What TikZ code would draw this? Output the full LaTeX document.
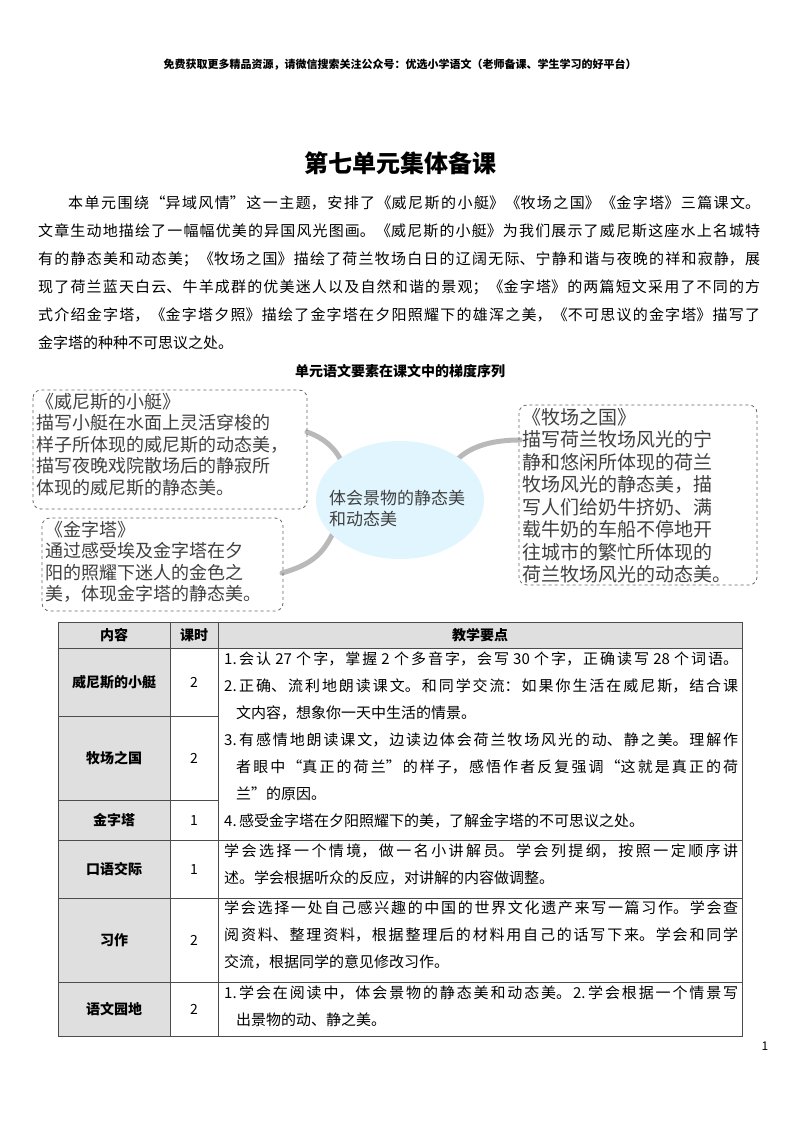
\documentclass[tikz,border=0pt]{standalone}
\usepackage{fontspec}
\setmainfont{Noto Sans CJK SC}
\newfontfamily\cjk{Noto Sans CJK SC}
\usetikzlibrary{shapes.geometric}
\XeTeXlinebreaklocale "zh"
\XeTeXlinebreakskip=0pt plus 4pt
\begin{document}
\begin{tikzpicture}[x=1pt,y=-1pt,
  dbox/.style={draw=gray!80!black,dashed,rounded corners=8pt,line width=0.8pt},
  btxt/.style={anchor=north west,align=left,inner sep=0pt,font=\fontsize{18}{21.5}\selectfont,text=black!75},
  conn/.style={draw=gray!55,line width=5pt,line cap=round},
  cell/.style={draw=black!70,line width=0.8pt},
  ttxt/.style={font=\bfseries\fontsize{14}{16}\selectfont},
  ctxt/.style={anchor=north west,align=justify,inner sep=0pt,font=\fontsize{15}{27}\selectfont}]
\useasboundingbox (0,0) rectangle (800,1132);
\fill[white] (0,0) rectangle (800,1132);
\node[font=\bfseries\fontsize{11}{13}\selectfont] (hdr) at (400,65) {免费获取更多精品资源，请微信搜索关注公众号：优选小学语文（老师备课、学生学习的好平台）};
\node[font=\bfseries\fontsize{24}{28}\selectfont] (title) at (400,163) {第七单元集体备课};
\node[anchor=north west,inner sep=0pt,text width=722pt,align=justify,font=\fontsize{15}{28}\selectfont] (para) at (38,196)
{\hspace*{30pt}本单元围绕“异域风情”这一主题，安排了《威尼斯的小艇》《牧场之国》《金字塔》三篇课文。\linebreak 文章生动地描绘了一幅幅优美的异国风光图画。《威尼斯的小艇》为我们展示了威尼斯这座水上名城特\linebreak 有的静态美和动态美；《牧场之国》描绘了荷兰牧场白日的辽阔无际、宁静和谐与夜晚的祥和寂静，展\linebreak 现了荷兰蓝天白云、牛羊成群的优美迷人以及自然和谐的景观；《金字塔》的两篇短文采用了不同的方\linebreak 式介绍金字塔，《金字塔夕照》描绘了金字塔在夕阳照耀下的雄浑之美，《不可思议的金字塔》描写了\linebreak 金字塔的种种不可思议之处。};
\node[font=\bfseries\fontsize{14}{16}\selectfont] (cap) at (400,371) {单元语文要素在课文中的梯度序列};
% mind map
\path[conn] (307,432) .. controls (330,440) and (340,455) .. (345,470);
\path[conn] (455,462) .. controls (470,445) and (495,440) .. (520,440);
\path[conn] (282,573) .. controls (310,565) and (322,555) .. (332,535);
\node[ellipse,fill=cyan!12,minimum width=168pt,minimum height=118pt] (ctr) at (400,500) {};
\node[anchor=west,align=left,inner sep=0pt,font=\fontsize{17}{21}\selectfont,text=black!75] (ctrt) at (329,508) {体会景物的静态美\\和动态美};
\draw[dbox] (33,390) rectangle (307,509);
\node[btxt] (b1) at (36,393) {《威尼斯的小艇》\\描写小艇在水面上灵活穿梭的\\样子所体现的威尼斯的动态美，\\描写夜晚戏院散场后的静寂所\\体现的威尼斯的静态美。};
\draw[dbox] (42,518) rectangle (283,611);
\node[btxt] (b2) at (45,521) {《金字塔》\\通过感受埃及金字塔在夕\\阳的照耀下迷人的金色之\\美，体现金字塔的静态美。};
\draw[dbox] (519,405) rectangle (757,585);
\node[btxt,font=\fontsize{19}{22.5}\selectfont] (b3) at (522,408) {《牧场之国》\\描写荷兰牧场风光的宁\\静和悠闲所体现的荷兰\\牧场风光的静态美，描\\写人们给奶牛挤奶、满\\载牛奶的车船不停地开\\往城市的繁忙所体现的\\荷兰牧场风光的动态美。};
% table
\fill[gray!25] (58,622) rectangle (742,648);
\fill[gray!25] (58,648) rectangle (170,1036);
\draw[cell] (58,622) rectangle (742,1036);
\foreach \y in {648,840,898,982} \draw[cell] (58,\y) -- (742,\y);
\foreach \y in {716,800} \draw[cell] (58,\y) -- (218,\y);
\draw[cell] (170,622) -- (170,1036);
\draw[cell] (218,622) -- (218,1036);
\node[ttxt] (h1) at (114,635) {内容};
\node[ttxt] (h2) at (194,635) {课时};
\node[ttxt] (h3) at (480,635) {教学要点};
\node[ttxt] (r1) at (114,682) {威尼斯的小艇};
\node[ttxt] (r2) at (114,758) {牧场之国};
\node[ttxt] (r3) at (114,820) {金字塔};
\node[ttxt] (r4) at (114,869) {口语交际};
\node[ttxt] (r5) at (114,940) {习作};
\node[ttxt] (r6) at (114,1009) {语文园地};
\foreach \n/\y/\v in {k1/682/2,k2/758/2,k3/820/1,k4/869/1,k5/940/2,k6/1009/2}
  \node[font=\fontsize{14}{16}\selectfont] (\n) at (194,\y) {\v};
\node[ctxt,text width=514pt] (t1) at (224,652) {1.\,会认 27 个字，掌握 2 个多音字，会写 30 个字，正确读写 28 个词语。\linebreak
2.\,正确、流利地朗读课文。和同学交流：如果你生活在威尼斯，结合课\linebreak\hspace*{12pt}文内容，想象你一天中生活的情景。\\
3.\,有感情地朗读课文，边读边体会荷兰牧场风光的动、静之美。理解作\linebreak\hspace*{12pt}者眼中“真正的荷兰”的样子，感悟作者反复强调“这就是真正的荷\linebreak\hspace*{12pt}兰”的原因。\\
4.\,感受金字塔在夕阳照耀下的美，了解金字塔的不可思议之处。};
\node[ctxt,text width=514pt] (t4) at (224,844) {学会选择一个情境，做一名小讲解员。学会列提纲，按照一定顺序讲\linebreak 述。学会根据听众的反应，对讲解的内容做调整。};
\node[ctxt,text width=514pt] (t5) at (224,901) {学会选择一处自己感兴趣的中国的世界文化遗产来写一篇习作。学会查\linebreak 阅资料、整理资料，根据整理后的材料用自己的话写下来。学会和同学\linebreak 交流，根据同学的意见修改习作。};
\node[ctxt,text width=514pt] (t6) at (224,986) {1.\,学会在阅读中，体会景物的静态美和动态美。2.\,学会根据一个情景写\linebreak\hspace*{12pt}出景物的动、静之美。};
\node[font=\fontsize{12}{14}\selectfont] (pg) at (765,1046) {1};
\end{tikzpicture}
\end{document}
